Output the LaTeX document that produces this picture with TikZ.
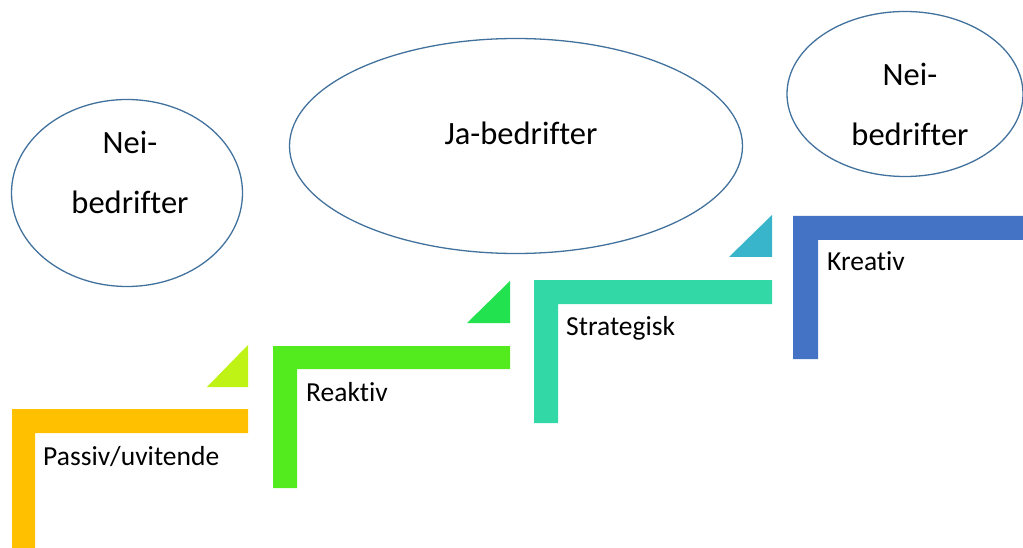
\documentclass[tikz,border=0pt]{standalone}
\usepackage{fontspec}
\setmainfont{Carlito}[Ligatures=NoCommon]
\usepackage{xcolor}
\usetikzlibrary{shapes.geometric}

\definecolor{ringblue}{HTML}{41719C}
\definecolor{passivorange}{HTML}{FFC000}
\definecolor{limetri}{HTML}{BFF215}
\definecolor{reaktivgreen}{HTML}{54EB1E}
\definecolor{greentri}{HTML}{22E250}
\definecolor{strategiskteal}{HTML}{32D8A6}
\definecolor{tealtri}{HTML}{38B5CB}
\definecolor{kreativblue}{HTML}{4472C4}

\begin{document}
\begin{tikzpicture}[x=1pt,y=-1pt,
    ring/.style={draw=ringblue, line width=1.3pt, ellipse, inner sep=0pt},
    bigtext/.style={font=\fontsize{32.5}{60}\selectfont, align=center},
    steptext/.style={font=\fontsize{27.5}{30}\selectfont, anchor=base west, inner sep=0pt}]
  \useasboundingbox (0,0) rectangle (1023,548);

  \node (nl) [ring, minimum width=231pt, minimum height=187pt] at (127,193) {};
  \node (ja) [ring, minimum width=453pt, minimum height=215pt] at (516,146) {};
  \node (nr) [ring, minimum width=236pt, minimum height=165pt] at (905,94) {};

  \node (nltxt) [bigtext] at (130,172) {Nei-\\bedrifter};
  \node (jatxt) [bigtext, anchor=base] at (521,145) {Ja-bedrifter};
  \node (nrtxt) [bigtext] at (910,104) {Nei-\\bedrifter};

  \fill[passivorange] (12,548) |- (248,409) -- (248,433) -| (35,548) -- cycle;
  \fill[limetri] (207,387) -- (248,387) -- (248,345) -- cycle;
  \fill[reaktivgreen] (273,488) |- (510,346) -- (510,369) -| (297,488) -- cycle;
  \fill[greentri] (467,323) -- (510,323) -- (510,281) -- cycle;
  \fill[strategiskteal] (534,423) |- (772,280) -- (772,304) -| (558,423) -- cycle;
  \fill[tealtri] (729,257) -- (772,257) -- (772,215) -- cycle;
  \fill[kreativblue] (793,359) |- (1023,216) -- (1023,240) -| (818,359) -- cycle;

  \node (passiv) [steptext] at (43,465) {Passiv/uvitende};
  \node (reaktiv) [steptext] at (306,401) {Reaktiv};
  \node (strategisk) [steptext] at (566,335) {Strategisk};
  \node (kreativ) [steptext] at (827,271) {Kreativ};
\end{tikzpicture}
\end{document}
